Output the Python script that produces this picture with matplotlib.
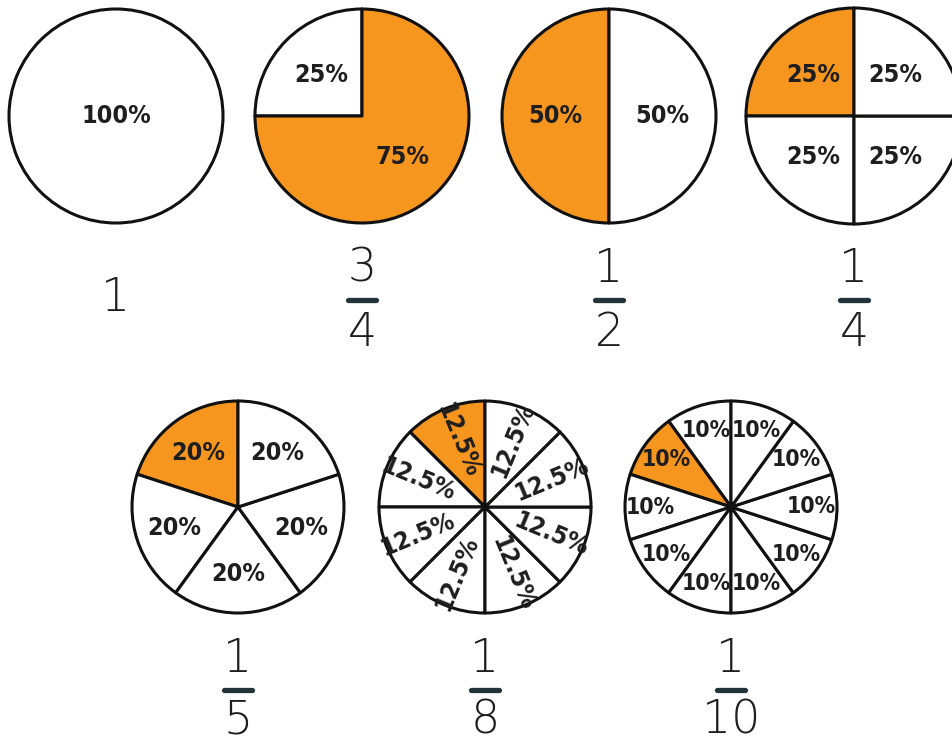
import numpy as np
import matplotlib
matplotlib.use("Agg")
import matplotlib.pyplot as plt

# --- Data ---
fractions    = ["1", "3/4", "1/2", "1/4", "1/5", "1/8", "1/10"]
numerators   = ["1", "3", "1", "1", "1", "1", "1"]
denominators = ["", "4", "2", "4", "5", "8", "10"]
shares = [
    [100],
    [25, 75],
    [50, 50],
    [25, 25, 25, 25],
    [20, 20, 20, 20, 20],
    [12.5, 12.5, 12.5, 12.5, 12.5, 12.5, 12.5, 12.5],
    [10, 10, 10, 10, 10, 10, 10, 10, 10, 10],
]
highlight = [None, 1, 0, 0, 0, 0, 1]   # which slice is orange

# --- Layout (pixel-ish coords, y measured from top) ---
W, H = 953, 742
centers  = [(116, 116), (362, 116), (609, 116), (854, 116),
            (238, 507), (485, 507), (731, 507)]
radii    = [107, 107, 107, 108, 106, 106, 106]
pct_dist = [0.0, 0.54, 0.5, 0.54, 0.63, 0.68, 0.76]
label_fs = [18, 18, 18, 18, 18, 18, 16.5]
rotate   = [False, False, False, False, False, True, False]
frac_y   = [(269, 300, 333)] * 4 + [(659, 690, 721)] * 3   # numerator, bar, denominator

ORANGE = "#F7961F"
EDGE   = "#111111"
INK    = "#1e1e1e"
BAR    = "#22343a"

fig = plt.figure(figsize=(W / 100, H / 100), dpi=100)
ax = fig.add_axes([0, 0, 1, 1])

for i, vals in enumerate(shares):
    cx, cy = centers[i]
    cols = ["white"] * len(vals)
    if highlight[i] is not None:
        cols[highlight[i]] = ORANGE
    wedges, _, autotexts = ax.pie(
        vals, colors=cols, startangle=90, counterclock=True,
        center=(cx, H - cy), radius=radii[i],
        autopct=lambda p: f"{p:.3g}%", pctdistance=pct_dist[i],
        wedgeprops=dict(edgecolor=EDGE, linewidth=2.2, joinstyle="round"),
        textprops=dict(family="DejaVu Sans", fontweight="bold",
                       fontstretch="condensed", fontsize=label_fs[i], color=INK),
    )
    if rotate[i]:
        for w, t in zip(wedges, autotexts):
            ang = (w.theta1 + w.theta2) / 2 % 360
            rot = ang - 180 if 90 < ang < 270 else ang
            t.set_rotation(rot)
            t.set_rotation_mode("anchor")

    # fraction under the pie
    ny, by, dy = frac_y[i]
    fkw = dict(ha="center", va="center", fontsize=33, color=INK,
               family="DejaVu Sans", fontweight=200)
    if denominators[i]:
        ax.text(cx, H - ny, numerators[i], **fkw)
        ax.plot([cx - 14, cx + 14], [H - by, H - by], color=BAR, lw=3.8,
                solid_capstyle="round")
        ax.text(cx, H - dy, denominators[i], **fkw)
    else:
        ax.text(cx, H - 298, numerators[i], **fkw)

ax.set_xlim(0, W)
ax.set_ylim(0, H)
ax.set_aspect("equal")
ax.axis("off")

fig.savefig("out.png", dpi=100, facecolor="white")
